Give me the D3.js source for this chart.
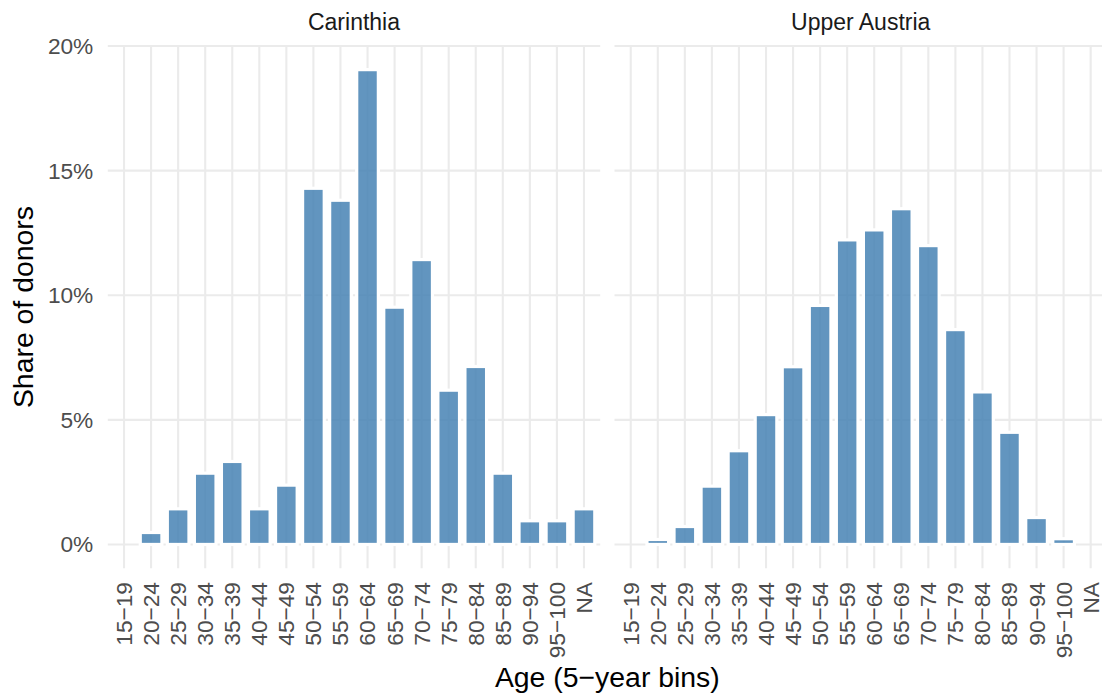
<!DOCTYPE html>
<html>
<head>
<meta charset="utf-8">
<script src="https://cdn.jsdelivr.net/npm/d3@7"></script>
<style>
  html, body { margin: 0; padding: 0; background: #ffffff; }
  svg { display: block; font-family: "Liberation Sans", Arial, Helvetica, sans-serif; }
</style>
</head>
<body>
<svg id="chart" width="1102" height="698"></svg>
<script>
// Age bins shown on the x axis of each facet
const ageBins = ["15−19", "20−24", "25−29", "30−34", "35−39", "40−44", "45−49",
  "50−54", "55−59", "60−64", "65−69", "70−74", "75−79", "80−84", "85−89",
  "90−94", "95−100", "NA"];

// Facet (region) names
const regions = ["Carinthia", "Upper Austria"];

// Share of donors per age bin, in percent
const carinthiaShare = [0, 0.48, 1.43, 2.86, 3.33, 1.43, 2.38, 14.29, 13.81, 19.05,
  9.52, 11.43, 6.19, 7.14, 2.86, 0.95, 0.95, 1.43];
const upperAustriaShare = [0, 0.2, 0.72, 2.34, 3.76, 5.21, 7.13, 9.59, 12.22, 12.62,
  13.47, 11.99, 8.62, 6.12, 4.5, 1.08, 0.23, 0];

// y axis breaks (percent)
const yTicks = [0, 5, 10, 15, 20];

const seriesByRegion = [carinthiaShare, upperAustriaShare];

const svg = d3.select("#chart");
svg.append("rect").attr("width", 1102).attr("height", 698).attr("fill", "#ffffff");

// Panel geometry
const panelTop = 45.9, panelBottom = 568.2;
const panelWidth = 492.4;
const panelLefts = [107.8, 614.5];

// Shared y scale with 5% expansion on both ends
const yMax = d3.max(seriesByRegion.flat());
const pad = yMax * 0.05;
const y = d3.scaleLinear().domain([-pad, yMax + pad]).range([panelBottom, panelTop]);

const gridColor = "#EBEBEB";
const gridWidth = 2.1;
const tickColor = "#4D4D4D";

regions.forEach((region, i) => {
  const x0 = panelLefts[i];
  const x = d3.scalePoint().domain(ageBins).range([x0, x0 + panelWidth]).padding(0.6);
  const step = x.step();
  const barW = step * 0.8;
  const g = svg.append("g");

  // horizontal grid
  g.selectAll("line.hgrid").data(yTicks).join("line")
    .attr("x1", x0).attr("x2", x0 + panelWidth)
    .attr("y1", d => y(d)).attr("y2", d => y(d))
    .attr("stroke", gridColor).attr("stroke-width", gridWidth);

  // vertical grid
  g.selectAll("line.vgrid").data(ageBins).join("line")
    .attr("x1", d => x(d)).attr("x2", d => x(d))
    .attr("y1", panelTop).attr("y2", panelBottom)
    .attr("stroke", gridColor).attr("stroke-width", gridWidth);

  // bars
  const rows = ageBins.map((b, k) => ({ bin: b, value: seriesByRegion[i][k] }))
    .filter(d => d.value > 0);
  g.selectAll("rect.bar").data(rows).join("rect")
    .attr("x", d => x(d.bin) - barW / 2)
    .attr("width", barW)
    .attr("y", d => y(d.value))
    .attr("height", d => y(0) - y(d.value))
    .attr("fill", "steelblue")
    .attr("fill-opacity", 0.85)
    .attr("stroke", "#ffffff")
    .attr("stroke-width", 3.2);

  // facet strip label
  svg.append("text")
    .attr("x", x0 + panelWidth / 2).attr("y", 30)
    .attr("text-anchor", "middle")
    .attr("font-size", 23).attr("fill", "#1A1A1A")
    .text(region);

  // x tick labels (rotated)
  g.selectAll("text.xtick").data(ageBins).join("text")
    .attr("transform", d => `translate(${x(d)},582) rotate(-90)`)
    .attr("text-anchor", "end")
    .attr("dy", "0.35em")
    .attr("font-size", 22.7).attr("fill", tickColor)
    .text(d => d);
});

// y tick labels (left panel only)
svg.selectAll("text.ytick").data(yTicks).join("text")
  .attr("x", 93.3).attr("y", d => y(d))
  .attr("dy", "0.35em")
  .attr("text-anchor", "end")
  .attr("font-size", 22.7).attr("fill", tickColor)
  .text(d => d + "%");

// axis titles
svg.append("text")
  .attr("x", (panelLefts[0] + panelLefts[1] + panelWidth) / 2).attr("y", 686.7)
  .attr("text-anchor", "middle")
  .attr("font-size", 28.4).attr("fill", "#000000")
  .text("Age (5−year bins)");

svg.append("text")
  .attr("transform", `translate(33.3,${(panelTop + panelBottom) / 2}) rotate(-90)`)
  .attr("text-anchor", "middle")
  .attr("font-size", 28.4).attr("fill", "#000000")
  .text("Share of donors");
</script>
</body>
</html>
